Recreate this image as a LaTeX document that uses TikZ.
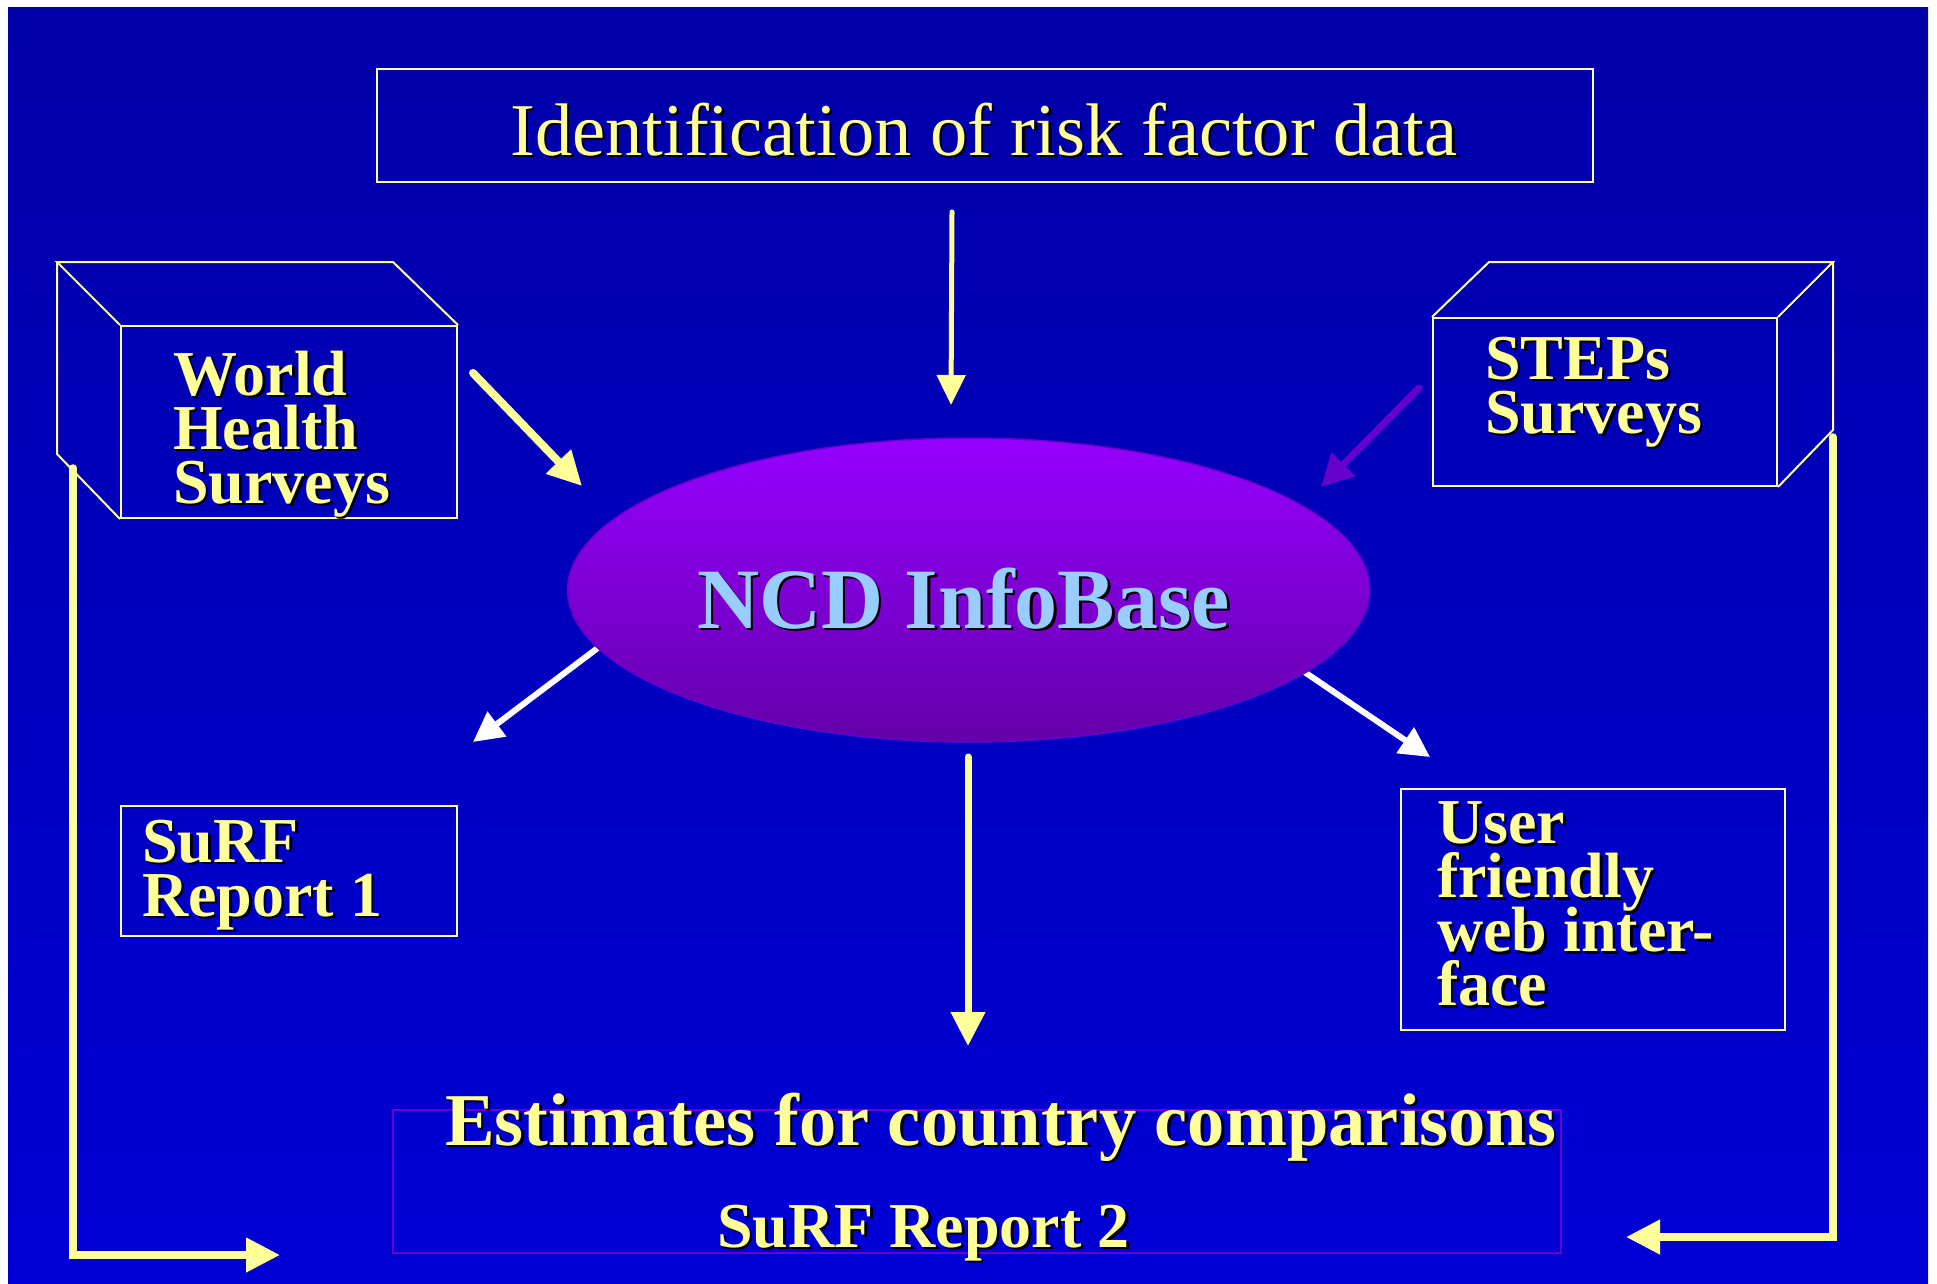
\documentclass[tikz,border=0pt]{standalone}
\usepackage{fontspec}
\setmainfont{Liberation Serif}
\usetikzlibrary{arrows.meta,shapes.geometric}
\definecolor{bgtop}{RGB}{0,0,168}
\definecolor{bgbot}{RGB}{0,0,214}
\definecolor{ylw}{RGB}{255,255,153}
\definecolor{ncdblue}{RGB}{153,204,255}
\definecolor{violetA}{RGB}{150,0,255}
\definecolor{violetB}{RGB}{100,0,170}
\definecolor{purp}{RGB}{102,0,204}
\newcommand\shd[1]{\makebox[0pt][l]{\hspace{2.5pt}\raisebox{-2.5pt}{\color{black}#1}}#1}
\tikzset{
  outline/.style={draw=ylw, line width=2pt},
  framebox/.style={outline, rectangle, inner sep=0pt},
  boxtext/.style={inner sep=0pt, anchor=base west, text=ylw, align=left,
    font={\fontsize{64}{54}\selectfont\bfseries\lineskiplimit=-200pt\lineskip=0pt}},
  yarrow/.style={draw=ylw, line width=7pt, line cap=round, -{Triangle[length=34pt,width=33pt]}},
  warrow/.style={draw=white, line width=6pt, -{Triangle[length=30pt,width=30pt]}},
  parrow/.style={draw=purp, line width=7pt, line cap=round, -{Triangle[length=32pt,width=32pt]}},
}
\begin{document}
\begin{tikzpicture}[x=1pt,y=-1pt]
\useasboundingbox (0,0) rectangle (1937,1283);
\fill[white] (0,0) rectangle (1937,1283);
\shade[top color=bgtop,bottom color=bgbot] (8,7) rectangle (1928,1283);

% top box
\node (topbox) [framebox, minimum width=1216, minimum height=113] at (985,125.5) {};
\node (toptext) [inner sep=0pt, anchor=base west, text=ylw, font={\fontsize{74.5}{80}\selectfont}] at (510,155) {\shd{Identification of risk factor data}};

% left 3D box
\node (whsfront) [framebox, minimum width=336, minimum height=192] at (289,422) {};
\draw[outline, line join=miter] (whsfront.north west) -- (57,262) -- (393,262) -- (whsfront.north east);
\draw[outline] (57,262) -- (57,454) -- (whsfront.south west);
\node (whstext) [boxtext] at (173,503) {\shd{World}\\\shd{Health}\\\shd{Surveys}};

% right 3D box
\node (stepsfront) [framebox, minimum width=344, minimum height=168] at (1605,402) {};
\draw[outline, line join=miter] (stepsfront.north west) -- (1489,262) -- (1833,262) -- (stepsfront.north east);
\draw[outline] (1833,262) -- (1833,430) -- (stepsfront.south east);
\node (stepstext) [boxtext] at (1485,433.3) {\shd{STEPs}\\\shd{Surveys}};

% SuRF 1 box
\node (surf1) [framebox, minimum width=336, minimum height=130] at (289,871) {};
\node (surf1text) [boxtext] at (142,916) {\shd{SuRF}\\\shd{Report 1}};

% user box
\node (user) [framebox, minimum width=384, minimum height=241] at (1593,909.5) {};
\node (usertext) [boxtext] at (1437,1005.7) {\shd{User}\\\shd{friendly}\\\shd{web inter-}\\\shd{face}};

% bottom box
\node (bottom) [draw=purp, line width=1.5pt, rectangle, inner sep=0pt, minimum width=1168, minimum height=143] at (977,1181.5) {};
\node (esttext) [inner sep=0pt, anchor=base west, text=ylw, font={\fontsize{74.5}{80}\selectfont\bfseries}] at (445,1145) {\shd{Estimates for country comparisons}};
\node (surf2text) [boxtext] at (717,1247) {\shd{SuRF Report 2}};

% coordinates for arrows
\coordinate (a1s) at (952,212);
\coordinate (a1e) at (951,405);
\coordinate (a2s) at (473,373);
\coordinate (a2e) at (582,486);
\coordinate (a3s) at (1419,388);
\coordinate (a3e) at (1321,487);
\coordinate (a4s) at (603,644);
\coordinate (a4e) at (473,742);
\coordinate (a5s) at (1300,669);
\coordinate (a5e) at (1430,757);
\coordinate (a6s) at (968,757);
\coordinate (a6e) at (968,1046);
\coordinate (l1s) at (73,468);
\coordinate (l1c) at (73,1255);
\coordinate (l1e) at (280,1255);
\coordinate (r1s) at (1833,437);
\coordinate (r1c) at (1833,1237);
\coordinate (r1e) at (1626,1237);

% white arrows (behind ellipse)
\draw[warrow] (a4s) -- (a4e);
\draw[warrow] (a5s) -- (a5e);

% ellipse
\node (ncd) [ellipse, minimum width=802, minimum height=304, inner sep=0pt, top color=violetA, bottom color=violetB, draw=purp, line width=1.5pt] at (968.6,590) {};
\node (ncdtext) [inner sep=0pt, anchor=base west, text=ncdblue, font={\fontsize{86}{90}\selectfont\bfseries}] at (697,628) {\shd{NCD InfoBase}};

% other arrows
\draw[yarrow, line width=5pt, -{Triangle[length=30pt,width=28pt]}] (a1s) -- (a1e);
\draw[yarrow, line width=8pt] (a2s) -- (a2e);
\draw[parrow] (a3s) -- (a3e);
\draw[yarrow] (a6s) -- (a6e);
\draw[yarrow, line width=7.5pt, line join=miter] (l1s) -- (l1c) -- (l1e);
\draw[yarrow, line width=7.5pt, line join=miter] (r1s) -- (r1c) -- (r1e);
\end{tikzpicture}
\end{document}
